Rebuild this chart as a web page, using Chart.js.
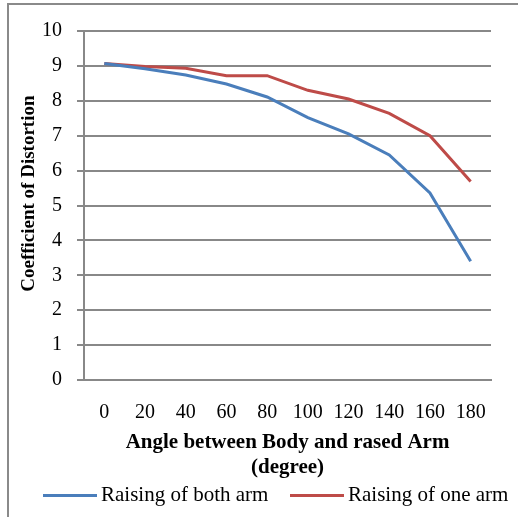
<!DOCTYPE html>
<html>
<head>
<meta charset="utf-8">
<script src="https://cdn.jsdelivr.net/npm/chart.js@4.4.1/dist/chart.umd.min.js"></script>
<style>
	body { margin: 0; background: #fff; }
	#wrap { position: relative; width: 518px; height: 517px; overflow: hidden; font-family: 'Liberation Serif', 'Times New Roman', serif; }
	#frame { position: absolute; left: 7px; top: 3px; width: 600px; height: 600px; border-left: 2px solid #8a8a8a; border-top: 2px solid #8a8a8a; }
	#chart { position: absolute; left: 0; top: 0; }
	.leg { position: absolute; top: 481px; font-size: 21px; line-height: 26px; color: #000; white-space: nowrap; }
	.leg i { display: inline-block; width: 54px; height: 3px; vertical-align: middle; margin-right: 4px; position: relative; top: -1px; }
</style>
</head>
<body>
<div id="wrap">
	<div id="frame"></div>
	<canvas id="chart" width="518" height="517"></canvas>
	<div id="legend"></div>
</div>
<script>
const angles = ['0', '20', '40', '60', '80', '100', '120', '140', '160', '180'];
const bothArm = [9.07, 8.92, 8.74, 8.48, 8.11, 7.52, 7.05, 6.45, 5.36, 3.4];
const oneArm = [9.07, 8.98, 8.93, 8.72, 8.72, 8.3, 8.05, 7.64, 7.0, 5.69];
const seriesNames = ['Raising of both arm', 'Raising of one arm'];
const seriesColors = ['#4a7ebb', '#be4b48'];

const ctx = document.getElementById('chart').getContext('2d');
const serif = 'Liberation Serif, Times New Roman, serif';

const data = {
	labels: angles,
	datasets: [bothArm, oneArm].map((values, i) => ({
		label: seriesNames[i],
		data: values,
		borderColor: seriesColors[i],
		backgroundColor: seriesColors[i],
		borderWidth: 3,
		pointRadius: 0,
		tension: 0,
	})),
};

const options = {
	responsive: false,
	animation: false,
	layout: {
		padding: { top: 31, right: 27, left: 18, bottom: 37 },
	},
	plugins: {
		legend: { display: false },
		tooltip: { enabled: false },
	},
	scales: {
		x: {
			offset: true,
			// chart.js counts tick padding twice in fit, so pin the height
			afterFit: (scale) => { scale.height = 100; },
			grid: { display: false, drawTicks: false },
			border: { display: true, color: '#888', width: 2 },
			ticks: { color: '#000', padding: 21, font: { family: serif, size: 20 } },
			title: {
				display: true,
				text: ['Angle between Body and rased Arm', '(degree)'],
				color: '#000',
				padding: { top: 5, bottom: 0 },
				font: { family: serif, size: 21, weight: 'bold', lineHeight: 1.19 },
			},
		},
		y: {
			min: 0,
			max: 10,
			afterFit: (scale) => { scale.width = 66; },
			ticks: { stepSize: 1, color: '#000', padding: 15, font: { family: serif, size: 20 } },
			grid: { color: '#888', lineWidth: 2, tickLength: 7 },
			border: { display: true, color: '#888', width: 2 },
			title: {
				display: true,
				// leading spaces nudge the rotated title upward like the original
				text: '     Coefficient of Distortion',
				color: '#000',
				padding: { top: 0, bottom: 1 },
				font: { family: serif, size: 19, weight: 'bold' },
			},
		},
	},
};

new Chart(ctx, { type: 'line', data: data, options: options });

// legend as html so line/text spacing matches
const legendLeft = [43, 290];
document.getElementById('legend').innerHTML = seriesNames.map((name, i) =>
	`<div class="leg" style="left:${legendLeft[i]}px"><i style="background:${seriesColors[i]}"></i>${name}</div>`
).join('');
</script>
</body>
</html>
